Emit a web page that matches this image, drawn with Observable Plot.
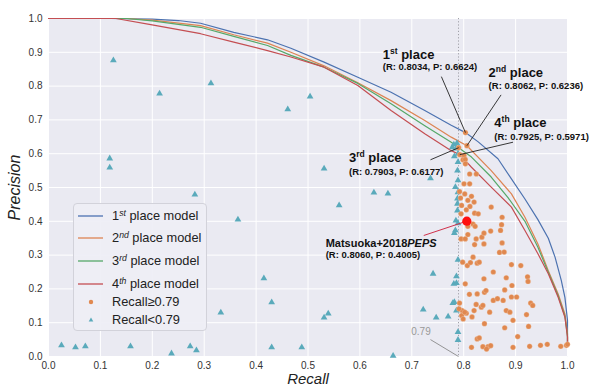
<!DOCTYPE html>
<html><head><meta charset="utf-8">
<script src="https://cdn.jsdelivr.net/npm/d3@7"></script>
<script src="https://cdn.jsdelivr.net/npm/@observablehq/plot@0.6"></script>
<style>
body{margin:0;background:#fff;}
#wrap{position:relative;width:589px;height:385px;font-family:"Liberation Sans",Arial,sans-serif;}
#legend{position:absolute;left:73px;top:203px;width:134px;height:128px;box-sizing:border-box;background:rgba(238,238,245,0.92);border:1px solid #d2d2da;border-radius:4px;font-size:12.8px;color:#222;}
.row{position:absolute;left:0;height:20px;width:134px;}
.row svg{position:absolute;left:0;top:0;}
.row span{position:absolute;left:38px;top:2px;white-space:nowrap;line-height:16px;}
sup{font-size:0.68em;font-style:italic;vertical-align:0.45em;line-height:0;}
</style></head>
<body><div id="wrap"></div>
<script>
// ---------------- data ----------------
const tickValues = [0,0.1,0.2,0.3,0.4,0.5,0.6,0.7,0.8,0.9,1.0];

const model1Recall    = [0,0.12,0.2,0.25,0.293,0.357,0.422,0.467,0.531,0.596,0.66,0.725,0.775,0.8034,0.828,0.866,0.89,0.918,0.943,0.963,0.976,0.988,0.995,1.0,1.0];
const model1Precision = [1,1,0.998,0.994,0.986,0.959,0.937,0.912,0.871,0.826,0.782,0.728,0.685,0.6624,0.635,0.585,0.530,0.466,0.405,0.350,0.294,0.225,0.175,0.107,0.04];

const model2Recall    = [0,0.15,0.2,0.293,0.357,0.422,0.467,0.531,0.596,0.66,0.725,0.776,0.8062,0.853,0.892,0.918,0.943,0.963,0.982,0.995,1.0,1.0];
const model2Precision = [1,1,0.995,0.979,0.952,0.927,0.900,0.860,0.810,0.757,0.698,0.649,0.6236,0.550,0.481,0.412,0.333,0.254,0.185,0.126,0.067,0.035];

const model3Recall    = [0,0.15,0.2,0.293,0.357,0.422,0.467,0.531,0.596,0.66,0.725,0.776,0.7903,0.815,0.853,0.885,0.918,0.943,0.963,0.982,0.995,1.0,1.0];
const model3Precision = [1,1,0.993,0.974,0.947,0.920,0.891,0.856,0.808,0.748,0.683,0.634,0.6177,0.590,0.531,0.471,0.400,0.323,0.249,0.180,0.120,0.060,0.035];

const model4Recall    = [0,0.13,0.197,0.293,0.357,0.422,0.467,0.531,0.596,0.66,0.725,0.776,0.7925,0.815,0.853,0.892,0.918,0.943,0.963,0.982,0.995,1.0,1.0];
const model4Precision = [1,1,0.982,0.955,0.930,0.905,0.886,0.856,0.802,0.728,0.659,0.609,0.5971,0.560,0.501,0.442,0.373,0.304,0.245,0.175,0.116,0.057,0.03];

const modelNames = ["1st place model","2nd place model","3rd place model","4th place model"];

// submissions with Recall >= 0.79
const hiRecall = [0.8034,0.8062,0.7903,0.7925,0.8006,0.7986,0.803,0.8032,0.8115,0.8243,0.8006,0.8115,
 0.792,0.802,0.815,0.794,0.808,0.820,0.796,0.812,0.805,0.821,0.828,0.795,0.818,0.808,0.822,0.853,0.852,0.874,0.873,0.871,
 0.795,0.803,0.808,0.821,0.824,0.835,0.839,0.839,0.874,0.869,0.878,
 0.798,0.807,0.813,0.818,0.826,0.830,0.857,0.892,0.910,0.839,0.882,0.803,0.893,0.811,0.826,0.840,0.843,0.879,0.857,0.865,0.876,0.892,0.902,
 0.792,0.824,0.834,0.837,0.797,0.805,0.820,0.850,0.882,0.889,0.895,0.796,0.816,0.840,0.879,0.904,0.826,0.830,0.815,0.837,0.847,0.844,0.895,0.852,
 0.923,0.924,0.929,0.933,0.921,0.925,0.927,0.948,0.961,0.987,0.998,1.0,0.791,0.799,0.802];
const hiPrecision = [0.6624,0.6236,0.6177,0.5971,0.595,0.582,0.583,0.570,0.540,0.540,0.511,0.511,
 0.488,0.481,0.474,0.469,0.462,0.457,0.447,0.444,0.434,0.424,0.422,0.422,0.392,0.385,0.385,0.442,0.371,0.412,0.390,0.373,
 0.348,0.348,0.361,0.331,0.348,0.353,0.365,0.333,0.336,0.308,0.309,
 0.279,0.269,0.278,0.294,0.276,0.279,0.250,0.272,0.269,0.230,0.233,0.215,0.210,0.184,0.185,0.190,0.195,0.197,0.166,0.171,0.166,0.176,0.176,
 0.158,0.154,0.146,0.151,0.136,0.128,0.136,0.131,0.136,0.131,0.107,0.121,0.117,0.097,0.085,0.059,0.052,0.055,0.027,0.029,0.029,0.022,0.027,0.032,
 0.236,0.222,0.158,0.151,0.124,0.089,0.030,0.033,0.036,0.030,0.033,0.036,0.141,0.111,0.131];

// submissions with Recall < 0.79
const loRecall = [0.125,0.214,0.313,0.461,0.118,0.118,0.282,0.504,0.531,0.736,0.627,0.654,0.560,0.415,0.430,0.531,0.539,0.430,0.488,
 0.741,0.722,0.747,0.770,0.664,0.025,0.052,0.071,0.158,0.237,0.273,0.285,0.365,0.332,
 0.781,0.787,0.778,0.785,0.789,0.782,0.789,0.788,0.789,0.784,0.789,0.788,0.788,0.788,0.785,0.789,0.784,0.782,0.789,0.786,0.781,0.786,0.779,0.782,0.786,0.789,0.789];
const loPrecision = [0.876,0.778,0.808,0.731,0.586,0.559,0.479,0.769,0.556,0.527,0.485,0.482,0.447,0.231,0.160,0.115,0.127,0.027,0.027,
 0.245,0.139,0.115,0.118,0.002,0.033,0.027,0.030,0.030,0.009,0.030,0.018,0.405,0.130,
 0.627,0.631,0.619,0.615,0.600,0.592,0.575,0.550,0.521,0.501,0.486,0.467,0.452,0.432,0.402,0.394,0.373,0.365,0.286,0.237,0.215,0.217,0.158,0.161,0.136,0.072,0.049];

const pepsName = "Matsuoka+2018PEPS";
const pepsRecall = 0.8060, pepsPrecision = 0.4005;

const placeTitles  = ["1st place","2nd place","3rd place","4th place"];
const placeRecall  = [0.8034,0.8062,0.7903,0.7925];
const placePrecision = [0.6624,0.6236,0.6177,0.5971];
const thresholdRecall = 0.79;

// ---------------- layout (annotation placement, in data units) ----------------
const annoLayout = {
  titleX: [0.644,0.848,0.579,0.859], titleY: [0.893,0.840,0.587,0.692],
  detailY:[0.856,0.800,0.546,0.651],
  lineX:  [0.757,0.872,0.736,0.895], lineY:  [0.828,0.774,0.582,0.634],
  pepsTitle: [0.534,0.334], pepsDetail: [0.534,0.299], pepsLine: [0.723,0.358],
  thrText: [0.699,0.074], thrLine: [0.736,0.050]
};

const fmt = d3.format(".4f");
const colors = ["#4c72b0","#dd8452","#55a868","#c44e52"];
const curves = [[model1Recall,model1Precision],[model2Recall,model2Precision],[model3Recall,model3Precision],[model4Recall,model4Precision]]
  .map(([r,p],i)=>r.map((v,j)=>({model:modelNames[i], recall:v, precision:p[j]})));
const hi = hiRecall.map((r,i)=>({recall:r, precision:hiPrecision[i]}));
const lo = loRecall.map((r,i)=>({recall:r, precision:loPrecision[i]}));
const places = placeTitles.map((t,i)=>({
  title:t, detail:`(R: ${fmt(placeRecall[i])}, P: ${fmt(placePrecision[i])})`,
  r:placeRecall[i], p:placePrecision[i],
  tx:annoLayout.titleX[i], ty:annoLayout.titleY[i], dy:annoLayout.detailY[i],
  lx:annoLayout.lineX[i], ly:annoLayout.lineY[i]}));
const peps = [{title:pepsName, detail:`(R: ${fmt(pepsRecall)}, P: ${fmt(pepsPrecision)})`, r:pepsRecall, p:pepsPrecision}];

const plot = Plot.plot({
  width:589, height:385,
  marginLeft:48, marginRight:22, marginTop:18, marginBottom:29,
  style:{fontFamily:"'Liberation Sans', Arial, sans-serif", fontSize:"10px", color:"#333", background:"transparent"},
  x:{domain:[0,1]}, y:{domain:[0,1]},
  marks:[
    Plot.frame({fill:"#eaeaf2", stroke:"none"}),
    Plot.gridX(tickValues,{stroke:"white", strokeOpacity:1, strokeWidth:1}),
    Plot.gridY(tickValues,{stroke:"white", strokeOpacity:1, strokeWidth:1}),
    Plot.axisX({ticks:tickValues, tickFormat:d3.format(".1f"), tickSize:0, tickPadding:5,
      label:"Recall", labelAnchor:"center", labelOffset:27, labelArrow:"none"}),
    Plot.axisY({ticks:tickValues, tickFormat:d3.format(".1f"), tickSize:0, tickPadding:6,
      label:"Precision", labelAnchor:"center", labelOffset:40, labelArrow:"none"}),
    Plot.ruleX([thresholdRecall],{stroke:"#a0a0a8", strokeWidth:1, strokeDasharray:"1.2,2"}),
    ...curves.map((c,i)=>Plot.line(c,{x:"recall", y:"precision", stroke:colors[i], strokeWidth:1.2})),
    Plot.dot(lo,{x:"recall", y:"precision", symbol:"triangle", r:2.5, fill:"#5aaabb", stroke:"none"}),
    Plot.dot(hi,{x:"recall", y:"precision", r:2.6, fill:"#e0884f", stroke:"#f4d8c4", strokeWidth:0.3}),
    // connectors
    Plot.link(places,{x1:"lx", y1:"ly", x2:"r", y2:"p", stroke:"#222", strokeWidth:0.9}),
    Plot.link(peps,{x1:()=>annoLayout.pepsLine[0], y1:()=>annoLayout.pepsLine[1], x2:"r", y2:"p", stroke:"#d0304a", strokeWidth:1}),
    Plot.link([thresholdRecall],{x1:()=>annoLayout.thrLine[0], y1:()=>annoLayout.thrLine[1], x2:d=>d, y2:()=>0, stroke:"#8a8a8a", strokeWidth:0.9}),
    Plot.dot(peps,{x:"r", y:"p", r:4.6, fill:"#ff1010", stroke:"none"}),
    // annotation texts
    Plot.text(places,{x:"tx", y:"ty", text:"title", textAnchor:"start", fontWeight:"bold", fontSize:13, fill:"#111"}),
    Plot.text(places,{x:"tx", y:"dy", text:"detail", textAnchor:"start", fontWeight:"bold", fontSize:9.5, fill:"#111"}),
    Plot.text(peps,{x:()=>annoLayout.pepsTitle[0], y:()=>annoLayout.pepsTitle[1], text:"title", textAnchor:"start", fontWeight:"bold", fontSize:11, fill:"#111"}),
    Plot.text(peps,{x:()=>annoLayout.pepsDetail[0], y:()=>annoLayout.pepsDetail[1], text:"detail", textAnchor:"start", fontWeight:"bold", fontSize:9.5, fill:"#111"}),
    Plot.text([thresholdRecall],{x:()=>annoLayout.thrText[0], y:()=>annoLayout.thrText[1], text:d=>String(d), textAnchor:"start", fontSize:10, fill:"#999"})
  ]
});

// styling touches: italic axis labels, superscripts in titles
const svg = d3.select(plot);
svg.selectAll('g[aria-label="x-axis label"] text')
  .style("font-style","italic").style("font-size","15px").attr("fill","#222");
svg.selectAll('g[aria-label="y-axis label"] text')
  .style("font-style","italic").style("font-size","16px").attr("fill","#222");
svg.selectAll("text").each(function(){
  const el = d3.select(this);
  const t = this.textContent;
  let m = /^(\d)(st|nd|rd|th)( place)$/.exec(t);
  if (m) {
    el.text(null);
    el.append("tspan").text(m[1]);
    el.append("tspan").attr("font-size","8.5px").attr("dy","-5").text(m[2]);
    el.append("tspan").attr("dy","5").text(m[3]);
  } else if (t === pepsName) {
    el.text(null);
    el.append("tspan").text("Matsuoka+2018");
    el.append("tspan").attr("font-style","italic").text("PEPS");
  }
});

const wrap = document.getElementById("wrap");
wrap.appendChild(plot);

// legend
const legend = document.createElement("div");
legend.id = "legend";
const legendRows = [
  {html:'1<sup>st</sup> place model', kind:"line", color:colors[0], c:12},
  {html:'2<sup>nd</sup> place model', kind:"line", color:colors[1], c:34},
  {html:'3<sup>rd</sup> place model', kind:"line", color:colors[2], c:57},
  {html:'4<sup>th</sup> place model', kind:"line", color:colors[3], c:80},
  {html:'Recall≥0.79', kind:"dot", color:"#e0884f", c:98},
  {html:'Recall&lt;0.79', kind:"tri", color:"#5aaabb", c:116}
];
for (const r of legendRows) {
  const row = document.createElement("div");
  row.className = "row"; row.style.top = (r.c-10)+"px";
  let sw = "";
  if (r.kind==="line") sw = `<line x1="4" x2="29" y1="10" y2="10" stroke="${r.color}" stroke-width="1.3"/>`;
  else if (r.kind==="dot") sw = `<circle cx="17" cy="10" r="2.2" fill="${r.color}"/>`;
  else sw = `<path d="M17,7.6 L19.3,11.6 L14.7,11.6 Z" fill="${r.color}"/>`;
  row.innerHTML = `<svg width="34" height="20">${sw}</svg><span>${r.html}</span>`;
  legend.appendChild(row);
}
wrap.appendChild(legend);
</script>
</body></html>
